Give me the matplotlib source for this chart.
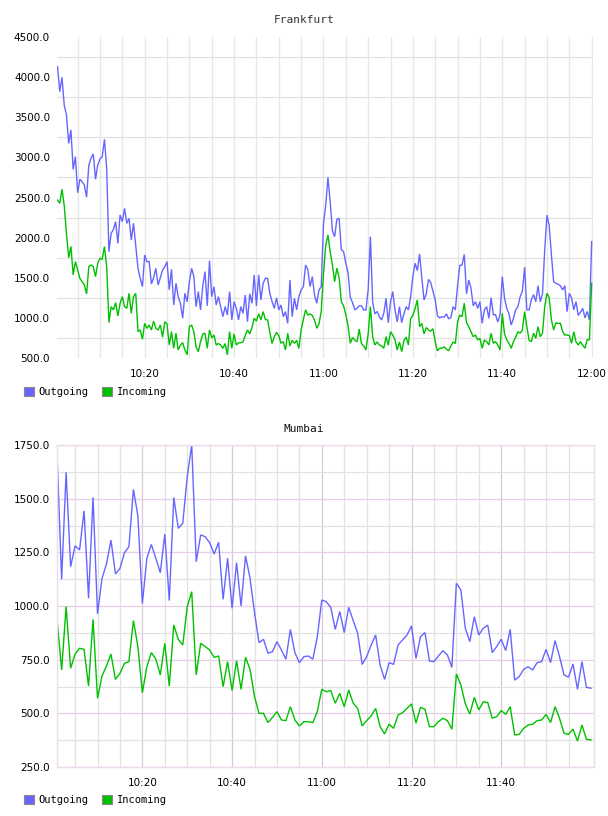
import matplotlib
matplotlib.use("Agg")
import matplotlib.pyplot as plt
import matplotlib.dates as mdates
import pandas as pd
from matplotlib.patches import Patch
from matplotlib.ticker import MultipleLocator, FixedLocator, FormatStrFormatter

# ---------------- data ----------------
series_names = ["Outgoing", "Incoming"]
series_colors = ["#6666ff", "#00c000"]

# Frankfurt: samples every 30 s from 10:00:30 to 12:00:00
fr_start = "2024-01-01 10:00:30"
fr_out = [
    4130, 3819, 3997, 3650, 3530, 3175, 3341, 2851, 3009, 2560,
    2727, 2697, 2656, 2502, 2900, 2988, 3042, 2727, 2905, 2980,
    3009, 3225, 2864, 1825, 2054, 2100, 2199, 1929, 2282, 2200,
    2365, 2178, 2241, 1971, 2178, 1900, 1620, 1493, 1389, 1784,
    1700, 1701, 1422, 1500, 1618, 1410, 1500, 1597, 1638, 1701,
    1350, 1605, 1161, 1431, 1265, 1180, 995, 1306, 1200, 1450,
    1618, 1514, 1140, 1327, 1099, 1400, 1576, 1150, 1713, 1265,
    1389, 1161, 1265, 1140, 1015, 1140, 1036, 1327, 974, 1202,
    1120, 974, 1140, 1057, 1285, 953, 1300, 1182, 1535, 1150,
    1535, 1223, 1431, 1493, 1493, 1306, 1202, 1119, 1250, 1100,
    1161, 1015, 1078, 932, 1472, 1015, 1244, 1100, 1265, 1350,
    1389, 1659, 1600, 1389, 1514, 1285, 1182, 1348, 1389, 2178,
    2400, 2750, 2450, 2085, 2012, 2230, 2240, 1850, 1825, 1680,
    1560, 1255, 1190, 1100, 1119, 1150, 1150, 1099, 1100, 1350,
    2012, 1202, 1050, 1080, 1015, 974, 1060, 1244, 940, 1200,
    1327, 1100, 950, 1140, 940, 1050, 1140, 1100, 1265, 1520,
    1680, 1590, 1796, 1500, 1223, 1300, 1480, 1440, 1330, 1223,
    1025, 1000, 1015, 1010, 1050, 990, 1000, 1140, 1100, 1400,
    1655, 1659, 1790, 1300, 1472, 1370, 1150, 1202, 1119, 1202,
    932, 1100, 1140, 995, 1250, 1036, 1040, 950, 1036, 1514,
    1250, 1119, 1050, 911, 995, 1100, 1140, 1265, 1330, 1630,
    1100, 1099, 1223, 1290, 1202, 1400, 1200, 1300, 1850, 2280,
    2150, 1780, 1450, 1431, 1420, 1400, 1348, 1400, 1078, 1306,
    1250, 1100, 1202, 1030, 1070, 1119, 1000, 1080, 974, 1950,
]
fr_in = [
    2469, 2427, 2602, 2400, 2050, 1750, 1890, 1535, 1701, 1600,
    1493, 1451, 1410, 1298, 1638, 1659, 1638, 1514, 1680, 1742,
    1730, 1888, 1638, 941, 1140, 1100, 1190, 1024, 1182, 1265,
    1140, 1119, 1306, 1057, 1265, 1306, 828, 849, 733, 932,
    870, 911, 849, 960, 870, 849, 911, 760, 953, 924,
    662, 828, 621, 808, 600, 662, 691, 600, 540, 891,
    911, 828, 640, 579, 704, 800, 808, 621, 850, 750,
    787, 662, 680, 662, 621, 680, 538, 828, 620, 800,
    662, 690, 691, 700, 780, 850, 800, 880, 995, 960,
    1050, 974, 1078, 980, 974, 820, 680, 766, 820, 780,
    683, 704, 600, 808, 650, 720, 683, 720, 620, 849,
    980, 1100, 1036, 1050, 1030, 974, 870, 925, 1080, 1550,
    1900, 2033, 1825, 1660, 1451, 1620, 1500, 1200, 1150, 1040,
    900, 683, 755, 725, 700, 860, 680, 650, 600, 800,
    1140, 766, 662, 700, 662, 650, 621, 766, 660, 828,
    787, 725, 600, 700, 579, 720, 760, 662, 990, 1030,
    1119, 1223, 891, 932, 800, 880, 849, 835, 865, 700,
    590, 621, 621, 640, 610, 590, 650, 700, 680, 950,
    1036, 1015, 1182, 940, 891, 828, 766, 787, 725, 745,
    621, 725, 704, 662, 808, 683, 704, 662, 600, 1057,
    800, 725, 683, 620, 704, 760, 828, 808, 850, 1078,
    891, 720, 704, 808, 745, 891, 766, 808, 1140, 1306,
    1250, 974, 849, 940, 932, 932, 830, 787, 787, 780,
    683, 828, 700, 662, 704, 660, 621, 730, 725, 1431,
]

# Mumbai: samples every minute from 10:01 to 12:00
mu_start = "2024-01-01 10:01:00"
mu_out = [
    1696, 1124, 1623, 1183, 1280, 1261, 1443, 1036, 1506, 963,
    1129, 1196, 1307, 1149, 1175, 1248, 1276, 1543, 1419, 1012,
    1222, 1287, 1222, 1155, 1335, 1025, 1506, 1362, 1385, 1602,
    1750, 1206, 1331, 1323, 1295, 1242, 1297, 1031, 1222, 989,
    1202, 1000, 1234, 1129, 970, 829, 845, 780, 787, 834,
    795, 752, 891, 783, 736, 764, 767, 752, 857, 1028,
    1020, 994, 891, 974, 876, 994, 932, 873, 728, 764,
    818, 865, 725, 658, 736, 728, 818, 842, 865, 907,
    756, 857, 876, 744, 741, 767, 792, 772, 714, 1106,
    1075, 896, 834, 950, 865, 896, 911, 783, 811, 845,
    792, 891, 655, 671, 705, 717, 702, 736, 741, 798,
    736, 839, 764, 679, 668, 730, 612, 741, 621, 617,
]
mu_in = [
    932, 702, 997, 710, 776, 803, 798, 627, 938, 570,
    674, 721, 776, 658, 686, 733, 741, 932, 811, 596,
    717, 783, 752, 679, 826, 627, 912, 845, 818, 997,
    1067, 679, 826, 811, 795, 761, 767, 624, 741, 606,
    745, 612, 761, 705, 578, 500, 500, 457, 481, 508,
    469, 466, 531, 469, 441, 461, 461, 457, 508, 612,
    601, 606, 547, 593, 531, 609, 547, 523, 441, 466,
    488, 523, 438, 404, 450, 430, 492, 503, 523, 544,
    454, 528, 519, 438, 438, 461, 477, 466, 426, 683,
    632, 544, 497, 575, 516, 554, 550, 477, 485, 513,
    495, 531, 399, 402, 430, 446, 449, 466, 469, 495,
    457, 531, 477, 407, 402, 426, 371, 446, 379, 376,
]

fr_times = pd.date_range(fr_start, periods=len(fr_out), freq="30s")
mu_times = pd.date_range(mu_start, periods=len(mu_out), freq="1min")

# ---------------- figure ----------------
W, H = 608, 816
fig = plt.figure(figsize=(W / 100, H / 100), dpi=100)

TICK_FONT = dict(family="DejaVu Sans", size=7.5)
MONO = "DejaVu Sans Mono"


def fr(x0, y_top, x1, y_bot):
    return [x0 / W, 1 - y_bot / H, (x1 - x0) / W, (y_bot - y_top) / H]


def style_axis(ax):
    ax.tick_params(which="both", length=0, colors="#000000")
    ax.tick_params(axis="y", pad=5)
    ax.tick_params(axis="x", pad=8)
    ax.set_axisbelow(True)
    ax.xaxis.set_major_locator(mdates.MinuteLocator(byminute=[0, 20, 40]))
    ax.xaxis.set_minor_locator(mdates.MinuteLocator(byminute=range(0, 60, 5)))
    ax.xaxis.set_major_formatter(mdates.DateFormatter("%H:%M"))
    ax.yaxis.set_major_formatter(FormatStrFormatter("%.1f"))


def set_tick_font(ax):
    for lab in ax.get_xticklabels() + ax.get_yticklabels():
        lab.set_fontfamily(TICK_FONT["family"])
        lab.set_fontsize(TICK_FONT["size"])


def add_legend(ax, y_px):
    handles = [Patch(facecolor=c, edgecolor="#888888", linewidth=0.8, label=n)
               for n, c in zip(series_names, series_colors)]
    leg = ax.legend(handles=handles, loc="center left",
                    bbox_to_anchor=(24 / W, 1 - y_px / H),
                    bbox_transform=fig.transFigure, ncol=2, frameon=False,
                    handlelength=0.95, handleheight=0.95, handletextpad=0.45,
                    columnspacing=1.3, borderaxespad=0, borderpad=0,
                    prop=dict(family=MONO, size=7.5))
    for t in leg.get_texts():
        t.set_color("#000000")


# ---- Frankfurt ----
ax1 = fig.add_axes(fr(57, 37, 593.3, 358))
for vals, c in zip([fr_out, fr_in], series_colors):
    ax1.plot(fr_times, vals, color=c, lw=1.0, solid_joinstyle="miter")
ax1.set_ylim(500, 4500)
ax1.set_xlim(pd.Timestamp("2024-01-01 10:00:23"), pd.Timestamp("2024-01-01 12:00:22"))
ax1.yaxis.set_major_locator(MultipleLocator(500))
ax1.yaxis.set_minor_locator(FixedLocator(list(range(750, 4500, 500))))
style_axis(ax1)
ax1.xaxis.grid(True, which="both", color="#e6e6e6", lw=0.9)
ax1.yaxis.grid(True, which="minor", color="#e2e2e2", lw=0.9)
ax1.yaxis.grid(False, which="major")
for s in ax1.spines.values():
    s.set_visible(False)
set_tick_font(ax1)
fig.text(0.5, 1 - 20 / H, "Frankfurt", ha="center", va="center",
         family=MONO, fontsize=8, color="#333333")
add_legend(ax1, 392)

# ---- Mumbai ----
ax2 = fig.add_axes(fr(57, 445, 593.7, 767))
for vals, c in zip([mu_out, mu_in], series_colors):
    ax2.plot(mu_times, vals, color=c, lw=1.0, solid_joinstyle="miter")
ax2.set_ylim(250, 1750)
ax2.set_xlim(pd.Timestamp("2024-01-01 10:00:58"), pd.Timestamp("2024-01-01 12:00:37"))
ax2.yaxis.set_major_locator(MultipleLocator(250))
ax2.yaxis.set_minor_locator(FixedLocator(list(range(375, 1750, 250))))
style_axis(ax2)
ax2.xaxis.set_major_locator(FixedLocator(
    [mdates.date2num(pd.Timestamp(f"2024-01-01 {h}")) for h in
     ["10:20", "10:40", "11:00", "11:20", "11:40"]]))
ax2.xaxis.set_minor_locator(FixedLocator(
    [mdates.date2num(t) for t in pd.date_range("2024-01-01 10:05", "2024-01-01 11:55", freq="5min")
     if t.minute % 20 != 0]))
ax2.xaxis.grid(True, which="major", color="#dfc6df", lw=0.9)
ax2.xaxis.grid(True, which="minor", color="#e2e2e2", lw=0.9)
ax2.yaxis.grid(True, which="major", color="#e6cfe6", lw=0.9)
ax2.yaxis.grid(True, which="minor", color="#e2e2e2", lw=0.9)
for s in ax2.spines.values():
    s.set_color("#ecdcec")
    s.set_linewidth(1.0)
set_tick_font(ax2)
fig.text(0.5, 1 - 429 / H, "Mumbai", ha="center", va="center",
         family=MONO, fontsize=8, color="#111111")
add_legend(ax2, 800)

fig.savefig("out.png", dpi=100)
